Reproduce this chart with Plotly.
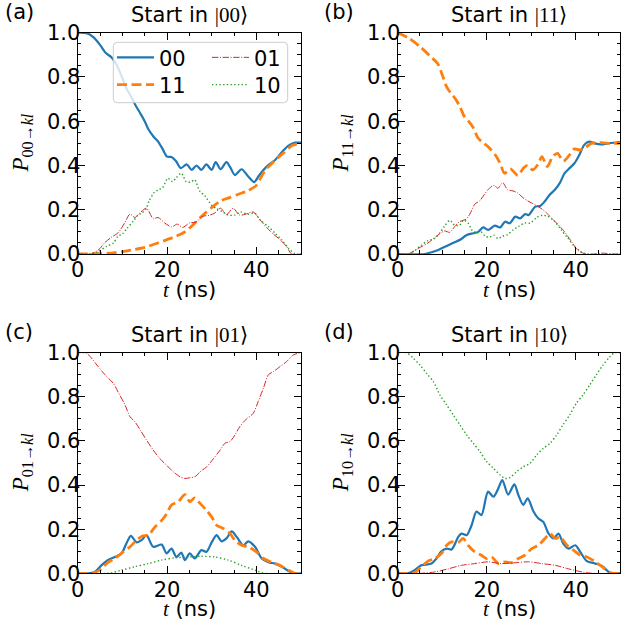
import plotly.graph_objects as go

# ---------------- data ----------------
# Panel (a): start in |00>
a00_t = [0, 2, 3.5, 5, 6.3, 7.6, 8.7, 9.9, 11, 12, 13, 14, 15, 15.8, 17, 18, 19, 20, 21, 22, 23.1, 24.4, 25.5, 26.6, 27.7, 28.8, 30, 30.9, 32, 33.3, 34.2, 35.2, 36.7, 38.2, 39.5, 40.6, 42.3, 44.2, 45.7, 47.2, 48.7, 50]
a00_p = [1.0, 0.998, 0.98, 0.945, 0.908, 0.888, 0.855, 0.80, 0.745, 0.71, 0.67, 0.636, 0.60, 0.565, 0.53, 0.508, 0.475, 0.44, 0.438, 0.42, 0.388, 0.405, 0.38, 0.40, 0.38, 0.405, 0.38, 0.415, 0.383, 0.415, 0.39, 0.357, 0.383, 0.35, 0.325, 0.355, 0.395, 0.425, 0.46, 0.49, 0.503, 0.503]
a11_t = [0, 5, 8, 12, 15, 18, 20, 22, 24, 26, 28, 30, 32, 34, 36, 38, 40, 41, 42, 43, 44, 46, 48, 50]
a11_p = [0, 0.002, 0.005, 0.018, 0.03, 0.05, 0.065, 0.08, 0.10, 0.135, 0.175, 0.21, 0.24, 0.255, 0.27, 0.285, 0.31, 0.345, 0.38, 0.40, 0.42, 0.455, 0.49, 0.50]
a01_t = [0, 3, 4, 5, 6, 7.5, 9, 10.5, 11.7, 12.8, 13.9, 15.4, 16.9, 18, 19.5, 21, 22.3, 23.5, 25, 26.5, 28, 29.5, 30.7, 32, 33.3, 34.8, 36.2, 37.6, 39.3, 40.8, 42.3, 43.8, 45.3, 46.8, 47.9, 50]
a01_p = [0, 0, 0.01, 0.025, 0.05, 0.075, 0.095, 0.14, 0.18, 0.165, 0.185, 0.207, 0.16, 0.165, 0.14, 0.122, 0.135, 0.12, 0.14, 0.145, 0.17, 0.175, 0.185, 0.207, 0.178, 0.207, 0.176, 0.18, 0.19, 0.155, 0.12, 0.09, 0.065, 0.033, 0, 0]
a10_t = [0, 2.5, 4.5, 6.5, 8, 9, 10, 11, 12.5, 13.5, 14.3, 15.2, 16, 17, 18, 19, 20.2, 21.2, 22.1, 23.2, 24.3, 25.3, 26.2, 27.3, 28.5, 30, 31.1, 32.5, 33.7, 35.2, 36.5, 38, 39.6, 40.8, 42.7, 44.2, 45.7, 47.2, 48.7, 50]
a10_p = [0, 0, 0.01, 0.035, 0.05, 0.08, 0.09, 0.115, 0.15, 0.176, 0.185, 0.2, 0.24, 0.275, 0.29, 0.30, 0.342, 0.327, 0.345, 0.365, 0.327, 0.325, 0.335, 0.285, 0.262, 0.22, 0.205, 0.19, 0.176, 0.176, 0.19, 0.18, 0.185, 0.155, 0.124, 0.094, 0.063, 0.026, 0, 0]

# Panel (b): start in |11>
b00_t = [0, 6, 7.6, 9.1, 10.6, 12.8, 14.3, 15.5, 17, 18.1, 19.2, 20.3, 21.8, 23, 24.1, 25.2, 26.4, 27.5, 28.6, 29.4, 30.9, 32, 33, 34.1, 35.3, 36.4, 37.5, 38.6, 39.7, 40.8, 41.9, 43, 44.2, 45.7, 47.2, 49.4, 50]
b00_p = [0, 0, 0.008, 0.018, 0.033, 0.053, 0.068, 0.086, 0.094, 0.10, 0.12, 0.109, 0.128, 0.12, 0.146, 0.139, 0.169, 0.161, 0.18, 0.176, 0.214, 0.217, 0.237, 0.267, 0.29, 0.32, 0.365, 0.388, 0.41, 0.448, 0.493, 0.508, 0.50, 0.495, 0.50, 0.505, 0.505]
b11_t = [0, 2.5, 5, 7.5, 9, 10, 11, 12, 13, 14, 15, 16, 17, 18, 19, 20, 21, 22, 23, 24, 25.3, 27, 28.3, 29.2, 30.3, 31.5, 32.4, 33.6, 34.8, 35.9, 37.2, 38.6, 39.7, 40.8, 42, 43.5, 45.5, 48, 50]
b11_p = [1.0, 0.975, 0.937, 0.89, 0.86, 0.81, 0.755, 0.725, 0.70, 0.665, 0.62, 0.598, 0.57, 0.525, 0.505, 0.49, 0.47, 0.445, 0.41, 0.365, 0.385, 0.355, 0.39, 0.40, 0.38, 0.405, 0.44, 0.395, 0.44, 0.455, 0.42, 0.448, 0.475, 0.47, 0.478, 0.50, 0.503, 0.50, 0.50]
b01_t = [0, 2.3, 4.6, 6.8, 9, 10.5, 11.7, 12.8, 13.9, 15.4, 16.2, 17.3, 18.4, 19.5, 20.6, 21.7, 22.5, 23.6, 24.7, 25.9, 27, 28.1, 29.2, 30.3, 31.5, 32.6, 33.7, 34.8, 35.9, 37, 38.2, 39.3, 40.4, 41.9, 44, 46, 48, 50]
b01_p = [0, 0, 0.025, 0.05, 0.085, 0.104, 0.098, 0.124, 0.146, 0.158, 0.18, 0.225, 0.24, 0.27, 0.297, 0.31, 0.297, 0.322, 0.29, 0.285, 0.275, 0.255, 0.24, 0.228, 0.215, 0.2, 0.18, 0.158, 0.135, 0.112, 0.08, 0.048, 0.018, 0.002, 0, 0.004, 0, 0]
b10_t = [0, 2.3, 3.8, 5.3, 6.8, 8.3, 9.4, 10.5, 11.7, 12.8, 13.9, 14.8, 15.8, 16.8, 17.8, 18.7, 19.7, 20.6, 21.6, 22.5, 23.5, 24.7, 26, 27.2, 28.5, 29.8, 31.2, 32.5, 33.7, 35.2, 36.7, 38.2, 39.7, 41.2, 42.5, 50]
b10_p = [0, 0, 0.015, 0.04, 0.06, 0.07, 0.094, 0.125, 0.152, 0.13, 0.13, 0.153, 0.14, 0.105, 0.095, 0.10, 0.08, 0.076, 0.085, 0.07, 0.08, 0.088, 0.11, 0.125, 0.14, 0.14, 0.165, 0.175, 0.17, 0.148, 0.11, 0.072, 0.035, 0.01, 0, 0]

# Panel (c): start in |01>
c00_t = [0, 2.3, 3.8, 5.3, 6.8, 8.3, 9.8, 10.9, 11.9, 13.2, 14.3, 15.4, 16.9, 18.8, 19.9, 21, 22.1, 23.2, 24, 25.1, 26.2, 27.7, 28.8, 30, 31.1, 32.2, 33.3, 34.5, 35.6, 37.1, 38.2, 39.7, 41.2, 42.7, 44.2, 45.7, 47.2, 48.3, 50]
c00_p = [0, 0, 0.006, 0.036, 0.06, 0.074, 0.09, 0.135, 0.17, 0.14, 0.15, 0.173, 0.12, 0.13, 0.09, 0.112, 0.074, 0.094, 0.06, 0.09, 0.067, 0.105, 0.097, 0.14, 0.173, 0.145, 0.158, 0.19, 0.165, 0.127, 0.145, 0.12, 0.067, 0.05, 0.044, 0.03, 0.01, 0, 0]
c11_t = [0, 3.8, 5.3, 6.8, 8.3, 10.2, 11.7, 13.2, 14.6, 15.8, 17.3, 18.8, 19.9, 21, 22.5, 24, 25.1, 26.2, 27.4, 28.8, 30, 31.1, 32.6, 34.1, 35.2, 36.7, 38.2, 40, 41.6, 43.4, 45.3, 47.2, 48.7, 50]
c11_p = [0, 0.003, 0.02, 0.05, 0.067, 0.097, 0.12, 0.15, 0.17, 0.173, 0.21, 0.24, 0.27, 0.31, 0.324, 0.357, 0.324, 0.342, 0.317, 0.286, 0.256, 0.218, 0.203, 0.18, 0.15, 0.127, 0.12, 0.097, 0.067, 0.05, 0.036, 0.014, 0, 0]
c01_t = [0, 2, 4.3, 6.1, 8, 9.1, 10.6, 11.7, 12.8, 14, 15.4, 16.9, 18.4, 19.9, 21.4, 22.9, 24, 25.1, 26.3, 27.4, 28.9, 30.4, 31.9, 33, 34.1, 35.2, 36.3, 37.8, 39.3, 40.4, 41.6, 42.7, 43.8, 45.3, 46.8, 48.3, 49.8, 50]
c01_p = [1.0, 0.997, 0.944, 0.90, 0.86, 0.82, 0.763, 0.71, 0.687, 0.65, 0.604, 0.559, 0.52, 0.49, 0.46, 0.438, 0.43, 0.433, 0.438, 0.46, 0.483, 0.52, 0.559, 0.59, 0.597, 0.627, 0.665, 0.70, 0.725, 0.778, 0.84, 0.90, 0.914, 0.937, 0.96, 0.99, 1.0, 1.0]
c10_t = [0, 6.8, 9.8, 12.8, 15.8, 18.8, 21.7, 24.7, 27.7, 30.7, 33.7, 36.7, 39.7, 41.9, 50]
c10_p = [0, 0, 0.014, 0.03, 0.044, 0.06, 0.07, 0.074, 0.077, 0.074, 0.06, 0.036, 0.014, 0, 0]

# Panel (d): start in |10>
d00_t = [0, 2.3, 3.8, 5.3, 7.6, 8.7, 9.8, 11, 12.1, 13.6, 14.3, 15.5, 16.6, 17.7, 18.8, 20.3, 21.5, 22.6, 23.5, 24.8, 26.2, 27.1, 28.2, 29.2, 30.5, 31.6, 32.7, 33.9, 35, 36.1, 37.2, 38.4, 39.9, 41, 42.5, 44.4, 45.9, 47.4, 48.1, 50]
d00_p = [0, 0, 0.014, 0.036, 0.044, 0.067, 0.10, 0.112, 0.108, 0.165, 0.18, 0.173, 0.218, 0.28, 0.264, 0.37, 0.347, 0.385, 0.423, 0.357, 0.403, 0.355, 0.31, 0.34, 0.28, 0.248, 0.233, 0.18, 0.158, 0.18, 0.135, 0.112, 0.127, 0.097, 0.055, 0.044, 0.033, 0.006, 0, 0]
d11_t = [0, 3.8, 5.3, 6.8, 8.3, 9.8, 11, 12.1, 13.6, 14.7, 15.8, 17.3, 18.8, 20, 21.1, 22.6, 24.1, 25.6, 27.1, 28.6, 30.1, 31.6, 33.1, 34.2, 35.4, 36.5, 38, 39.5, 41, 42.5, 44.4, 45.9, 47.4, 48.5, 50]
d11_p = [0, 0.003, 0.03, 0.055, 0.067, 0.09, 0.127, 0.142, 0.14, 0.158, 0.127, 0.097, 0.082, 0.067, 0.074, 0.044, 0.052, 0.048, 0.067, 0.082, 0.112, 0.127, 0.158, 0.18, 0.158, 0.165, 0.127, 0.105, 0.082, 0.074, 0.052, 0.03, 0.006, 0, 0]
d01_t = [0, 5.3, 8.3, 11.3, 14.3, 17.3, 20.3, 23.3, 26.4, 29.4, 32.4, 35.4, 38.4, 41.4, 43.6, 50]
d01_p = [0, 0, 0.006, 0.02, 0.036, 0.044, 0.052, 0.044, 0.048, 0.052, 0.044, 0.036, 0.02, 0.006, 0, 0]
d10_t = [0, 2, 3.5, 5, 6.5, 8, 9.5, 11, 12.5, 14, 15.5, 17, 18.5, 20, 21.5, 23, 24.1, 25.2, 26.7, 28.2, 29.7, 31.2, 32.7, 34.2, 35.7, 37.1, 38.6, 40.1, 41.6, 43.1, 44.6, 46.1, 47.6, 48.7, 50]
d10_p = [1.0, 1.0, 0.975, 0.944, 0.906, 0.869, 0.808, 0.763, 0.717, 0.672, 0.627, 0.589, 0.551, 0.506, 0.476, 0.446, 0.43, 0.434, 0.46, 0.483, 0.498, 0.536, 0.566, 0.589, 0.627, 0.672, 0.717, 0.77, 0.808, 0.853, 0.899, 0.944, 0.98, 1.0, 1.0]

state_names = ["00", "11", "01", "10"]
panel_letters = ["a", "b", "c", "d"]
start_states = ["00", "11", "01", "10"]
x_ticks = [0, 20, 40]
y_ticks = [0.0, 0.2, 0.4, 0.6, 0.8, 1.0]

panel_series = {
    "a": [(a00_t, a00_p), (a11_t, a11_p), (a01_t, a01_p), (a10_t, a10_p)],
    "b": [(b00_t, b00_p), (b11_t, b11_p), (b01_t, b01_p), (b10_t, b10_p)],
    "c": [(c00_t, c00_p), (c11_t, c11_p), (c01_t, c01_p), (c10_t, c10_p)],
    "d": [(d00_t, d00_p), (d11_t, d11_p), (d01_t, d01_p), (d10_t, d10_p)],
}

# ---------------- styling ----------------
W, H = 621, 631
styles = {
    "00": dict(color="#1f77b4", width=2.2, dash="solid"),
    "11": dict(color="#ff7f0e", width=2.8, dash="10px,4.5px"),
    "01": dict(color="#d62728", width=1.0, dash="6.4px,1.6px,1px,1.6px"),
    "10": dict(color="#2ca02c", width=1.4, dash="1.4px,2.3px"),
}
# one legend box per entry, 2 x 2 arrangement (matplotlib ncol=2)
legend_of = {"00": "legend", "01": "legend2", "11": "legend3", "10": "legend4"}
legend_pos = {"legend": (112, 57.7), "legend2": (207, 57.7), "legend3": (112, 85.0), "legend4": (207, 85.0)}

# pixel boxes of the four panels: (left, right, top, bottom)
boxes = {
    "a": (77.7, 301.0, 32.7, 254.0),
    "b": (397.7, 620.3, 32.7, 254.0),
    "c": (77.7, 301.0, 352.7, 573.3),
    "d": (397.7, 620.3, 352.7, 573.3),
}

def px(x):
    return x / W

def py(y):
    return 1 - y / H

SANS = "DejaVu Sans"
SERIF = "Liberation Serif"
FS = 21

fig = go.Figure()
layout = dict(
    width=W, height=H,
    margin=dict(l=0, r=0, t=0, b=0, pad=0, autoexpand=False),
    paper_bgcolor="white", plot_bgcolor="white",
    font=dict(family=SANS, size=FS, color="black"),
    showlegend=True,
)

annotations = []
for i, letter in enumerate(panel_letters):
    n = "" if i == 0 else str(i + 1)
    xa, ya = "x" + n, "y" + n
    l, r, t, b = boxes[letter]
    axis_common = dict(
        showline=True, linecolor="black", linewidth=1.4, mirror="allticks",
        ticks="inside", ticklen=7, tickwidth=1.4, tickcolor="black",
        showgrid=False, zeroline=False, automargin=False,
        tickfont=dict(family=SANS, size=FS, color="black"),
    )
    layout["xaxis" + n] = dict(
        axis_common, domain=[px(l), px(r)], anchor=ya, range=[0, 50],
        tickvals=x_ticks, ticktext=[str(v) for v in x_ticks],
        minor=dict(ticks="inside", ticklen=3.5, tickwidth=1.1, tickcolor="black", dtick=5, tick0=0),
        ticklabelstandoff=-3,
    )
    layout["yaxis" + n] = dict(
        axis_common, domain=[py(b), py(t)], anchor=xa, range=[0, 1],
        tickvals=y_ticks, ticktext=["%.1f" % v for v in y_ticks],
        minor=dict(ticks="inside", ticklen=3.5, tickwidth=1.1, tickcolor="black", dtick=0.05, tick0=0),
        ticklabelstandoff=-8,
    )
    for (tt, pp), name in zip(panel_series[letter], state_names):
        st = styles[name]
        fig.add_trace(go.Scatter(
            x=tt, y=pp, mode="lines", name=name,
            line=dict(color=st["color"], width=st["width"], dash=st["dash"], shape="spline", smoothing=0.8),
            xaxis=xa, yaxis=ya,
            showlegend=(letter == "a"), legend=legend_of[name],
        ))
    cx = (l + r) / 2
    cy = (t + b) / 2
    s = start_states[i]
    # panel title
    annotations.append(dict(
        text="Start in <span style='font-family:%s'>|%s⟩</span>" % (SERIF, s),
        x=px(cx), y=py(t - 18), xref="paper", yref="paper",
        xanchor="center", yanchor="middle", showarrow=False,
        font=dict(family=SANS, size=FS, color="black")))
    # panel letter
    annotations.append(dict(
        text="(%s)" % letter, x=px(l - 58.7), y=py(t - 20.5), xref="paper", yref="paper",
        xanchor="center", yanchor="middle", showarrow=False,
        font=dict(family=SANS, size=FS, color="black")))
    # x label
    annotations.append(dict(
        text="<span style='font-family:%s'><i>t</i></span> (ns)" % SERIF,
        x=px(cx), y=py(b + 36), xref="paper", yref="paper",
        xanchor="center", yanchor="middle", showarrow=False,
        font=dict(family=SANS, size=FS, color="black")))
    # y label
    annotations.append(dict(
        text="<i>P</i><sub>%s→<i>kl</i></sub>" % s,
        x=px(l - 55.5), y=py(cy), xref="paper", yref="paper", textangle=-90,
        xanchor="center", yanchor="middle", showarrow=False,
        font=dict(family=SERIF, size=23, color="black")))

layout["annotations"] = annotations

# legend frame (matplotlib-like rounded box, 80% opaque)
lx0, lx1, ly0, ly1 = 113.3, 287.7, 42.3, 102.7
rad = 4.0
path = (
    f"M{px(lx0 + rad)},{py(ly0)} L{px(lx1 - rad)},{py(ly0)} Q{px(lx1)},{py(ly0)} {px(lx1)},{py(ly0 + rad)} "
    f"L{px(lx1)},{py(ly1 - rad)} Q{px(lx1)},{py(ly1)} {px(lx1 - rad)},{py(ly1)} "
    f"L{px(lx0 + rad)},{py(ly1)} Q{px(lx0)},{py(ly1)} {px(lx0)},{py(ly1 - rad)} "
    f"L{px(lx0)},{py(ly0 + rad)} Q{px(lx0)},{py(ly0)} {px(lx0 + rad)},{py(ly0)} Z"
)
layout["shapes"] = [dict(type="path", path=path, xref="paper", yref="paper",
                         fillcolor="rgba(255,255,255,0.8)", line=dict(color="#cccccc", width=1),
                         layer="above")]

leg_common = dict(bgcolor="rgba(0,0,0,0)", borderwidth=0, font=dict(family=SANS, size=FS, color="black"),
                  orientation="v", xanchor="left", yanchor="middle", itemwidth=37, tracegroupgap=0)
for key, (lx, ly) in legend_pos.items():
    layout[key] = dict(leg_common, x=px(lx), y=py(ly))

fig.update_layout(**layout)
fig.write_html("out.html", config={"responsive": False, "displayModeBar": False},
               post_script="document.body.style.margin='0px';document.body.style.overflow='hidden';")
